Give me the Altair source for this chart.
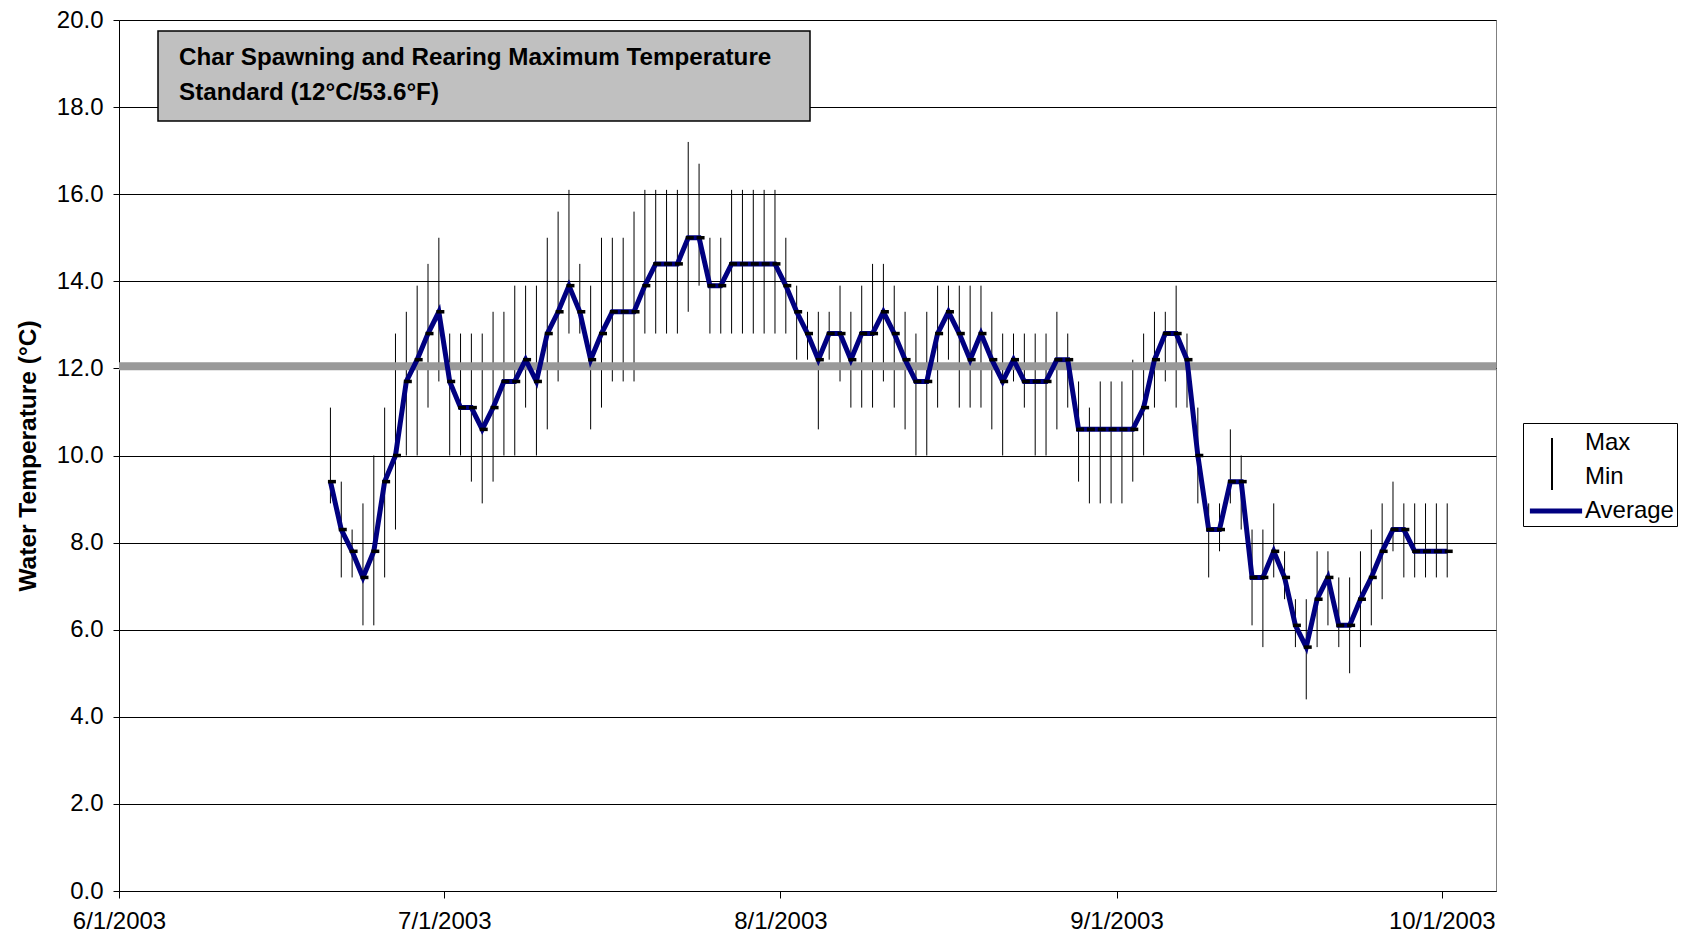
import altair as alt
import pandas as pd

FONT = "Liberation Sans"

# Daily readings, 6/20/2003 .. 10/1/2003 (°C)
start = pd.Timestamp("2003-06-20")
avg = [9.4, 8.3, 7.8, 7.2, 7.8, 9.4, 10.0, 11.7, 12.2, 12.8, 13.3,
       11.7, 11.1, 11.1, 10.6, 11.1, 11.7, 11.7, 12.2, 11.7, 12.8, 13.3,
       13.9, 13.3, 12.2, 12.8, 13.3, 13.3, 13.3, 13.9, 14.4, 14.4, 14.4,
       15.0, 15.0, 13.9, 13.9, 14.4, 14.4, 14.4, 14.4, 14.4,
       13.9, 13.3, 12.8, 12.2, 12.8, 12.8, 12.2, 12.8, 12.8, 13.3, 12.8,
       12.2, 11.7, 11.7, 12.8, 13.3, 12.8, 12.2, 12.8, 12.2, 11.7, 12.2,
       11.7, 11.7, 11.7, 12.2, 12.2, 10.6, 10.6, 10.6, 10.6,
       10.6, 10.6, 11.1, 12.2, 12.8, 12.8, 12.2, 10.0, 8.3, 8.3, 9.4,
       9.4, 7.2, 7.2, 7.8, 7.2, 6.1, 5.6, 6.7, 7.2, 6.1, 6.1, 6.7, 7.2,
       7.8, 8.3, 8.3, 7.8, 7.8, 7.8,
       7.8]
mx = [11.1, 9.4, 8.3, 8.9, 10.0, 11.1, 12.8, 13.3, 13.9, 14.4, 15.0,
      12.8, 12.8, 12.8, 12.8, 13.3, 13.3, 13.9, 13.9, 13.9, 15.0, 15.6,
      16.1, 14.4, 13.9, 15.0, 15.0, 15.0, 15.6, 16.1, 16.1, 16.1, 16.1,
      17.2, 16.7, 15.0, 15.0, 16.1, 16.1, 16.1, 16.1, 16.1,
      15.0, 13.9, 13.3, 13.3, 13.3, 13.9, 13.3, 13.9, 14.4, 14.4, 13.9,
      13.3, 12.8, 13.3, 13.9, 13.9, 13.9, 13.9, 13.9, 13.3, 12.8, 12.8,
      12.8, 12.8, 12.8, 13.3, 12.8, 11.7, 11.1, 11.7, 11.7,
      11.7, 12.2, 12.8, 13.3, 13.3, 13.9, 12.8, 11.1, 8.9, 8.9, 10.6,
      10.0, 8.3, 8.3, 8.9, 7.8, 6.7, 6.7, 7.8, 7.8, 7.2, 7.2, 7.8, 8.3,
      8.9, 9.4, 8.9, 8.9, 8.9, 8.9,
      8.9]
mn = [8.9, 7.2, 7.2, 6.1, 6.1, 7.2, 8.3, 10.0, 10.0, 11.1, 11.7,
      10.0, 10.0, 9.4, 8.9, 9.4, 10.0, 10.0, 11.1, 10.0, 10.6, 11.7,
      12.8, 12.8, 10.6, 11.1, 11.7, 11.7, 11.7, 12.8, 12.8, 12.8, 12.8,
      13.3, 13.9, 12.8, 12.8, 12.8, 12.8, 12.8, 12.8, 12.8,
      12.8, 12.2, 12.2, 10.6, 12.2, 11.7, 11.1, 11.1, 11.1, 11.7, 11.1,
      10.6, 10.0, 10.0, 11.1, 12.2, 11.1, 11.1, 11.1, 10.6, 10.0, 11.7,
      11.1, 10.0, 10.0, 10.6, 11.1, 9.4, 8.9, 8.9, 8.9,
      8.9, 9.4, 10.0, 11.1, 11.7, 11.1, 11.1, 8.9, 7.2, 7.8, 8.9,
      8.3, 6.1, 5.6, 7.2, 6.7, 5.6, 4.4, 5.6, 6.1, 5.6, 5.0, 5.6, 6.1,
      6.7, 7.8, 7.2, 7.2, 7.2, 7.2,
      7.2]
dates = [(start + pd.Timedelta(days=i)).strftime("%Y-%m-%dT12:00:00") for i in range(len(avg))]

standard = [12.05]
series_names = ["Max", "Min", "Average"]
series_colors = ["transparent", "transparent", "#000080"]
box_lines = ["Char Spawning and Rearing Maximum Temperature", "Standard (12°C/53.6°F)"]
y_ticks = [0, 2, 4, 6, 8, 10, 12, 14, 16, 18, 20]
x_ticks = [alt.DateTime(year=2003, month=m, date=1) for m in (6, 7, 8, 9, 10)]

df = pd.DataFrame({"date": dates, "avg": avg, "max": mx, "min": mn})
df["series"] = "Average"
std_df = pd.DataFrame({"v": standard})
one = pd.DataFrame({"k": [0]})

W, H = 1377, 871
FS = 24
DASH = "M-1,-0.44L1,-0.44L1,0.44L-1,0.44Z"

xscale = alt.Scale(domain=[alt.DateTime(year=2003, month=6, date=1),
                           alt.DateTime(year=2003, month=10, date=6)])
xaxis = alt.Axis(values=x_ticks, format="%-m/%-d/%Y", title=None, grid=False,
                 tickSize=7, labelPadding=11, labelFlush=False)
yscale = alt.Scale(domain=[0, 20], nice=False, zero=True)
yaxis = alt.Axis(values=y_ticks, format=".1f", title="Water Temperature (°C)",
                 grid=True, gridColor="black", gridWidth=1, tickSize=6,
                 labelPadding=10, titleX=-91, titleBaseline="middle",
                 titleFont=FONT, titleFontSize=24.5, titleFontWeight="bold",
                 titleColor="black")

X = alt.X("date:T", scale=xscale, axis=xaxis)

rules = alt.Chart(df).mark_rule(color="black", strokeWidth=1).encode(
    x=X,
    y=alt.Y("min:Q", scale=yscale, axis=yaxis),
    y2="max:Q",
)

std = alt.Chart(std_df).mark_rule(color="#999999", strokeWidth=8).encode(
    y=alt.Y("v:Q", scale=yscale, axis=yaxis)
)

legend = alt.Legend(
    title=None, orient="none", legendX=1404, legendY=403,
    strokeColor="black", padding=3,
    symbolSize=841, symbolOffset=13, labelOffset=12,
    labelFont=FONT, labelFontSize=FS, labelColor="black", labelLimit=300,
    rowPadding=5, symbolType="M-1.8,0L1.8,0", symbolStrokeWidth=5,
)

line = alt.Chart(df).mark_line(strokeWidth=5).encode(
    x=X,
    y=alt.Y("avg:Q", scale=yscale, axis=yaxis),
    color=alt.Color("series:N", scale=alt.Scale(domain=series_names, range=series_colors),
                    legend=legend),
)

marks = alt.Chart(df).mark_point(
    shape=DASH, filled=True, color="black",
    size=64, opacity=1, strokeWidth=0, xOffset=1.5,
).encode(
    x=X,
    y=alt.Y("avg:Q", scale=yscale, axis=yaxis),
)

# legend decoration: high-low stroke spanning the Max / Min entries
legend_hilo = alt.Chart(one).mark_rule(color="black", strokeWidth=2).encode(
    x=alt.value(1433), y=alt.value(418), y2=alt.value(470)
)

box = alt.Chart(one).mark_rect(fill="#c0c0c0", stroke="black", strokeWidth=1.5).encode(
    x=alt.value(39), x2=alt.value(691), y=alt.value(11), y2=alt.value(101)
)
box_text = alt.Chart(one).mark_text(
    text=box_lines, align="left", baseline="middle", font=FONT, fontSize=24.2,
    fontWeight="bold", color="black", lineHeight=35,
).encode(x=alt.value(60), y=alt.value(38))

chart = alt.layer(rules, std, line, marks, legend_hilo, box, box_text).properties(
    width=W, height=H,
    autosize=alt.AutoSizeParams(type="none"),
    padding={"left": 111, "top": 12, "right": 182, "bottom": 43},
).configure_view(stroke="#808080", strokeWidth=1).configure_axis(
    labelFont=FONT, labelFontSize=FS, labelColor="black",
    domainColor="black", tickColor="black", domainWidth=1, tickWidth=1,
)

chart.save("out.html", embed_options={"renderer": "svg", "actions": False})
